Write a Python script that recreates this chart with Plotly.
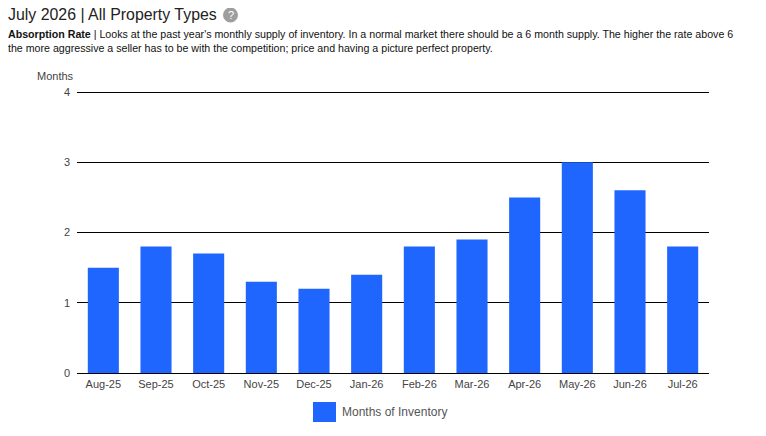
import plotly.graph_objects as go

months = ["Aug-25", "Sep-25", "Oct-25", "Nov-25", "Dec-25", "Jan-26",
          "Feb-26", "Mar-26", "Apr-26", "May-26", "Jun-26", "Jul-26"]
inventory = [1.5, 1.8, 1.7, 1.3, 1.2, 1.4, 1.8, 1.9, 2.5, 3.0, 2.6, 1.8]
y_ticks = [0, 1, 2, 3, 4]

BAR = "#1f66ff"
OFF = 8  # page body margin
W, H = 766 - OFF, 436 - OFF
# plot area in page pixels: x 77..709, y 92(=4)..373(=0)
UNIT = (373 - 92) / 4.0
YMAX = 4.1
L = 77 - OFF
R = 766 - 709
T = round(373 - YMAX * UNIT) - OFF
B = 436 - 373
PW, PH = W - L - R, H - T - B

fig = go.Figure()
fig.add_trace(go.Bar(x=months, y=inventory, name="Months of Inventory",
                     marker=dict(color=BAR, line=dict(width=0)),
                     showlegend=False))

def px_x(p):
    return (p - OFF - L) / PW

def px_y(p):
    return (H - B - (p - OFF)) / PH

fig.update_layout(
    width=W, height=H,
    margin=dict(l=L, r=R, t=T, b=B, pad=0),
    paper_bgcolor="white", plot_bgcolor="white",
    font=dict(family="Liberation Sans, Arial, sans-serif", color="#444", size=11),
    bargap=0.41,
    xaxis=dict(showgrid=False, ticks="", tickfont=dict(size=11, color="#444"),
               showline=False, zeroline=False, ticklabelstandoff=3),
    yaxis=dict(range=[0, YMAX], tickvals=y_ticks, showgrid=True, gridcolor="black",
               gridwidth=1, zeroline=True, zerolinecolor="black", zerolinewidth=1,
               tickfont=dict(size=11, color="#444"), ticks="", ticklabelstandoff=6,
               showline=False),
)

annotations = [
    dict(text="July 2026 | All Property Types", x=px_x(8), y=px_y(14),
         xref="paper", yref="paper", xanchor="left", yanchor="middle",
         borderpad=0, borderwidth=0,
         showarrow=False, font=dict(size=15.9, color="#222")),
    dict(text="?", x=px_x(230.5), y=px_y(15), xref="paper", yref="paper",
         xanchor="center", yanchor="middle", showarrow=False,
         font=dict(size=11, color="white", family="Liberation Sans, Arial")),
    dict(text="<b>Absorption Rate</b> | Looks at the past year's monthly supply of inventory. "
              "In a normal market there should be a 6 month supply. The higher the rate above 6"
              "<br>the more aggressive a seller has to be with the competition; price and having a picture perfect property.",
         x=px_x(8), y=px_y(40.5), xref="paper", yref="paper", xanchor="left", yanchor="middle",
         borderpad=0, borderwidth=0,
         align="left", showarrow=False, font=dict(size=10.65, color="#111")),
    dict(text="Months", x=px_x(75.5), y=px_y(76), xref="paper", yref="paper",
         xanchor="right", yanchor="middle", showarrow=False,
         font=dict(size=11, color="#444")),
    dict(text="Months of Inventory", x=px_x(340), y=px_y(412), xref="paper", yref="paper",
         xanchor="left", yanchor="middle", showarrow=False,
         font=dict(size=12, color="#555")),
]

shapes = [
    dict(type="circle", xref="paper", yref="paper",
         x0=px_x(223), x1=px_x(238), y0=px_y(22.5), y1=px_y(7.5),
         fillcolor="#9e9e9e", line=dict(width=0)),
    dict(type="rect", xref="paper", yref="paper",
         x0=px_x(313), x1=px_x(336), y0=px_y(422), y1=px_y(402),
         fillcolor=BAR, line=dict(width=0)),
]

fig.update_layout(annotations=annotations, shapes=shapes)
fig.write_html("out.html")
